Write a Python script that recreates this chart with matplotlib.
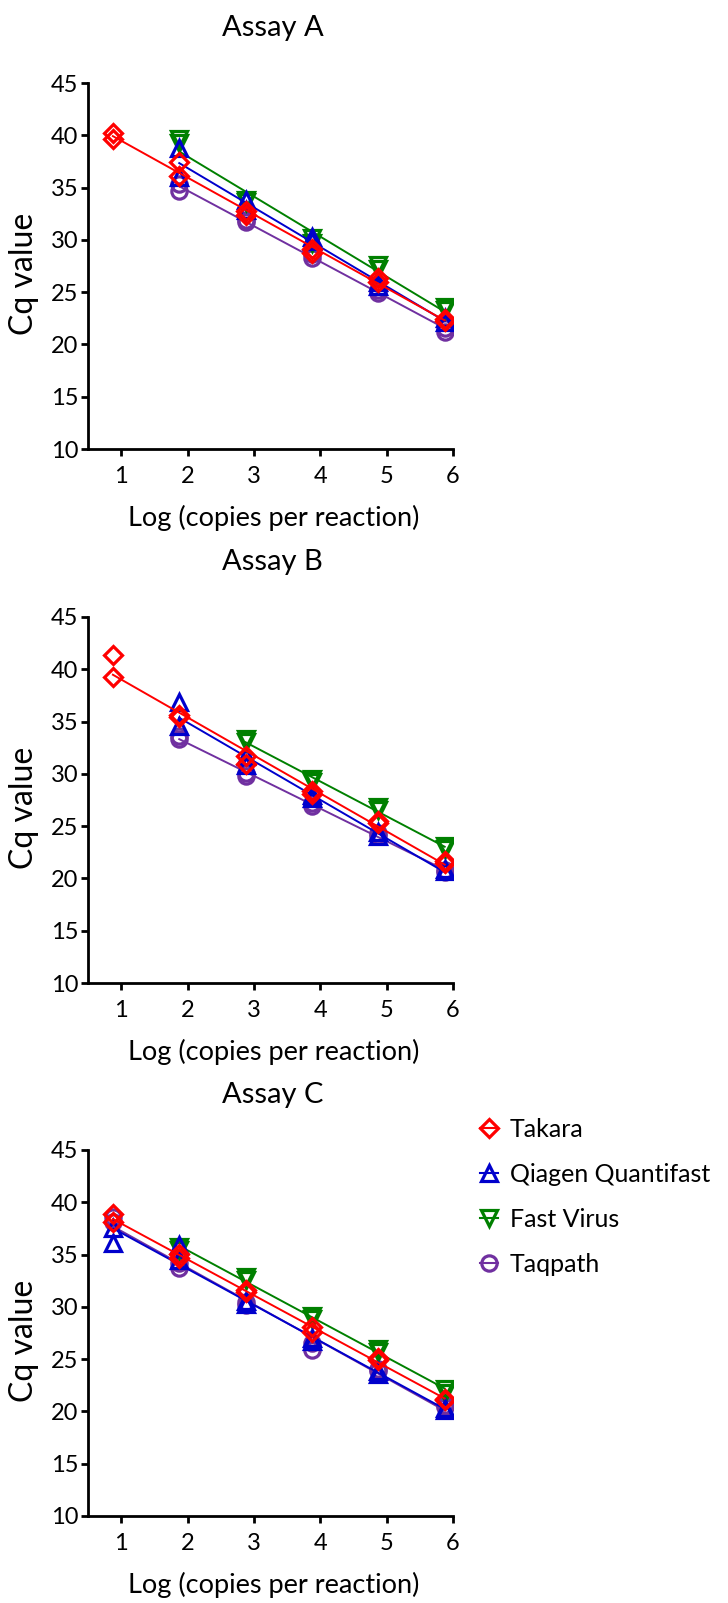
import numpy as np
import matplotlib
matplotlib.use("Agg")
import matplotlib.pyplot as plt
from matplotlib.lines import Line2D

plt.rcParams['font.family'] = ['Lato', 'DejaVu Sans']

# ---------------- data ----------------
kits = ["Takara", "Qiagen Quantifast", "Fast Virus", "Taqpath"]
colors = ["#FF0000", "#0000CC", "#008000", "#7030A0"]
markers = ["D", "^", "v", "o"]
assays = ["Assay A", "Assay B", "Assay C"]
xticks = [1, 2, 3, 4, 5, 6]
yticks = [10, 15, 20, 25, 30, 35, 40, 45]

# Assay A  (log copies, Cq)
a_takara_x = [0.875, 0.875, 1.875, 1.875, 2.875, 2.875, 3.875, 3.875, 4.875, 4.875, 5.875, 5.875]
a_takara_y = [40.2, 39.6, 37.4, 36.1, 32.8, 32.4, 29.1, 28.7, 26.4, 26.0, 22.4, 22.2]
a_qiagen_x = [1.875, 1.875, 2.875, 2.875, 3.875, 3.875, 4.875, 4.875, 5.875, 5.875]
a_qiagen_y = [38.8, 36.0, 33.8, 32.9, 30.3, 29.9, 26.0, 25.6, 22.5, 22.1]
a_fast_x = [1.875, 1.875, 2.875, 2.875, 3.875, 3.875, 4.875, 4.875, 5.875, 5.875]
a_fast_y = [39.6, 39.3, 33.8, 33.6, 30.2, 29.7, 27.6, 27.2, 23.6, 23.3]
a_taq_x = [1.875, 1.875, 2.875, 2.875, 3.875, 3.875, 4.875, 4.875, 5.875, 5.875]
a_taq_y = [35.3, 34.7, 31.7, 31.9, 28.3, 28.6, 24.9, 25.2, 21.2, 21.6]

# Assay B
b_takara_x = [0.875, 0.875, 1.875, 1.875, 2.875, 2.875, 3.875, 3.875, 4.875, 4.875, 5.875, 5.875]
b_takara_y = [41.4, 39.3, 35.6, 35.4, 31.7, 30.9, 28.4, 28.1, 25.5, 25.3, 21.7, 21.5]
b_qiagen_x = [1.875, 1.875, 2.875, 2.875, 3.875, 3.875, 4.875, 4.875, 5.875, 5.875]
b_qiagen_y = [36.9, 34.6, 31.7, 30.8, 27.7, 28.0, 24.4, 24.1, 20.7, 20.9]
b_fast_x = [2.875, 2.875, 3.875, 3.875, 4.875, 4.875, 5.875, 5.875]
b_fast_y = [33.3, 33.0, 29.5, 29.2, 26.8, 26.5, 23.1, 22.8]
b_taq_x = [1.875, 1.875, 2.875, 2.875, 3.875, 3.875, 4.875, 4.875, 5.875, 5.875]
b_taq_y = [33.3, 33.6, 29.8, 30.1, 26.9, 27.2, 24.1, 24.3, 20.6, 20.8]

# Assay C
c_takara_x = [0.875, 0.875, 1.875, 1.875, 2.875, 2.875, 3.875, 3.875, 4.875, 4.875, 5.875, 5.875]
c_takara_y = [38.9, 38.1, 35.1, 34.7, 31.6, 31.4, 28.1, 27.6, 25.1, 24.9, 21.2, 21.1]
c_qiagen_x = [0.875, 0.875, 1.875, 1.875, 2.875, 2.875, 3.875, 3.875, 4.875, 4.875, 5.875, 5.875]
c_qiagen_y = [37.5, 36.1, 35.9, 34.5, 30.6, 30.3, 26.7, 27.0, 23.6, 23.9, 20.1, 20.3]
c_fast_x = [1.875, 1.875, 2.875, 2.875, 3.875, 3.875, 4.875, 4.875, 5.875, 5.875]
c_fast_y = [35.7, 35.4, 32.9, 32.6, 29.1, 28.8, 26.0, 25.7, 22.1, 21.8]
c_taq_x = [0.875, 0.875, 1.875, 1.875, 2.875, 2.875, 3.875, 3.875, 4.875, 4.875, 5.875, 5.875]
c_taq_y = [38.6, 38.1, 33.7, 34.2, 30.2, 30.5, 25.9, 26.5, 23.9, 24.1, 20.4, 20.6]

panels = [
    [(a_takara_x, a_takara_y), (a_qiagen_x, a_qiagen_y), (a_fast_x, a_fast_y), (a_taq_x, a_taq_y)],
    [(b_takara_x, b_takara_y), (b_qiagen_x, b_qiagen_y), (b_fast_x, b_fast_y), (b_taq_x, b_taq_y)],
    [(c_takara_x, c_takara_y), (c_qiagen_x, c_qiagen_y), (c_fast_x, c_fast_y), (c_taq_x, c_taq_y)],
]

# ---------------- layout ----------------
W, H = 728, 1603
fig = plt.figure(figsize=(W / 100, H / 100), dpi=100)

ax_left, ax_right = 88, 453
ax_tops = [83, 617, 1150]
ax_h = 366

def fx(px):
    return px / W

def fy(py):
    return 1 - py / H

draw_order = [3, 2, 1, 0]

def msize(m):
    return 9.5 if m == 'D' else 11

for p, series in enumerate(panels):
    top = ax_tops[p]
    ax = fig.add_axes([fx(ax_left), fy(top + ax_h), fx(ax_right - ax_left), ax_h / H])
    for k in draw_order:
        xs = np.array(series[k][0], dtype=float)
        ys = np.array(series[k][1], dtype=float)
        m, b = np.polyfit(xs, ys, 1)
        xl = np.array([xs.min(), xs.max()])
        ax.plot(xl, m * xl + b, color=colors[k], lw=1.4, zorder=2 + (3 - k))
        ax.plot(xs, ys, linestyle='none', marker=markers[k], markersize=msize(markers[k]),
                markerfacecolor='none', markeredgecolor=colors[k], markeredgewidth=2.3,
                zorder=3 + (3 - k))
    ax.set_xlim(0.5, 6.0)
    ax.set_ylim(10, 45)
    ax.set_xticks(xticks)
    ax.set_yticks(yticks)
    ax.spines['top'].set_visible(False)
    ax.spines['right'].set_visible(False)
    for s in ['left', 'bottom']:
        ax.spines[s].set_linewidth(2.0)
    ax.tick_params(axis='both', direction='out', width=2.0, length=5, labelsize=17)
    ax.tick_params(axis='x', pad=7)
    ax.tick_params(axis='y', pad=2)
    # titles and labels
    cx = (ax_left + ax_right) / 2
    fig.text(fx(cx + 2), fy(top - 55), assays[p], ha='center', va='center', fontsize=21)
    fig.text(fx(cx + 3), fy(top + ax_h + 69), "Log (copies per reaction)", ha='center', va='center', fontsize=19.5)
    fig.text(fx(24), fy(top + ax_h / 2 + 8), "Cq value", ha='center', va='center', fontsize=23, rotation=90)

handles = [Line2D([0], [0], color=colors[k], lw=1.5, marker=markers[k],
                  markersize=msize(markers[k]),
                  markerfacecolor='none', markeredgecolor=colors[k], markeredgewidth=2.3)
           for k in range(4)]
fig.legend(handles, kits, loc='upper left', bbox_to_anchor=(fx(480), fy(1118)),
           frameon=False, fontsize=18, handlelength=0.7, handletextpad=0.5,
           labelspacing=0.88, borderaxespad=0, borderpad=0)

fig.savefig("out.png", dpi=100)
